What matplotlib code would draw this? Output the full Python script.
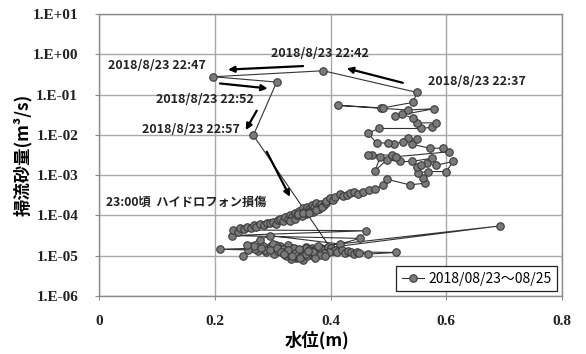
import matplotlib
matplotlib.use("Agg")
import matplotlib.pyplot as plt
import numpy as np

# water level (m) and log10 of bedload discharge (m3/s), in time order
# baseline before the rise
base_x = [0.350, 0.362, 0.345, 0.338, 0.330, 0.322, 0.316, 0.308, 0.300, 0.292,
          0.283, 0.275, 0.262, 0.249, 0.270, 0.288, 0.303, 0.313, 0.327, 0.340,
          0.355, 0.368, 0.380, 0.372, 0.358, 0.334, 0.320, 0.305, 0.286, 0.268,
          0.258, 0.280, 0.297, 0.311, 0.326, 0.255, 0.278, 0.295, 0.416, 0.451,
          0.229, 0.462]
base_y = [-4.87, -4.92, -4.95, -4.85, -4.90, -4.98, -4.88, -4.80, -4.85, -4.81,
          -4.77, -4.89, -4.80, -5.00, -4.83, -4.92, -4.96, -4.76, -4.79, -5.05,
          -4.94, -4.80, -4.92, -4.86, -4.78, -4.82, -4.93, -4.74, -4.86, -4.76,
          -4.85, -4.82, -4.77, -4.84, -4.74, -4.73, -4.61, -4.50, -4.71, -4.57,
          -4.50, -4.38]

# rising limb
rise_x = [0.232, 0.240, 0.244, 0.250, 0.255, 0.262, 0.267, 0.272, 0.278, 0.285,
          0.290, 0.295, 0.300, 0.305, 0.310, 0.313, 0.318, 0.322, 0.326, 0.330,
          0.334, 0.338, 0.330, 0.338, 0.342, 0.345, 0.350, 0.353, 0.356, 0.359,
          0.362, 0.365, 0.368, 0.372, 0.375, 0.380, 0.384, 0.388, 0.380, 0.370,
          0.358, 0.350, 0.344, 0.353, 0.362, 0.375, 0.385, 0.392, 0.393, 0.399,
          0.404, 0.408, 0.416, 0.422, 0.428, 0.434, 0.440, 0.448, 0.457, 0.467,
          0.477, 0.491, 0.497, 0.537, 0.563, 0.560]
rise_y = [-4.36, -4.40, -4.32, -4.33, -4.28, -4.30, -4.24, -4.28, -4.22, -4.25,
          -4.20, -4.19, -4.16, -4.21, -4.12, -4.08, -4.14, -4.05, -4.10, -3.99,
          -4.04, -3.95, -4.13, -4.08, -3.99, -3.90, -3.94, -3.82, -3.88, -3.78,
          -3.84, -3.90, -3.74, -3.80, -3.70, -3.76, -3.72, -3.75, -3.85, -3.92,
          -3.96, -4.02, -3.97, -3.93, -3.95, -3.87, -3.80, -3.70, -3.64, -3.57,
          -3.61, -3.53, -3.47, -3.52, -3.49, -3.44, -3.41, -3.47, -3.41, -3.38,
          -3.35, -3.24, -3.10, -3.24, -3.20, -3.08]

# peak period
peak_x = [0.552, 0.569, 0.600, 0.612, 0.583, 0.566, 0.549, 0.557, 0.575, 0.540,
          0.520, 0.497, 0.477, 0.486, 0.471, 0.465, 0.506, 0.514, 0.604, 0.595,
          0.572, 0.540, 0.549, 0.534, 0.525, 0.509, 0.500, 0.480, 0.465, 0.483,
          0.556, 0.575, 0.583, 0.549, 0.543, 0.523, 0.511, 0.579, 0.534, 0.488,
          0.4136, 0.490, 0.543, 0.549, 0.3876, 0.1975, 0.307, 0.2667]
peak_y = [-2.94, -2.91, -2.91, -2.66, -2.75, -2.70, -2.79, -2.75, -2.58, -2.66,
          -2.66, -2.62, -2.89, -2.54, -2.50, -2.50, -2.50, -2.54, -2.42, -2.33,
          -2.33, -2.23, -2.11, -2.08, -2.17, -2.23, -2.19, -2.21, -1.96, -1.84,
          -1.84, -1.81, -1.70, -1.70, -1.59, -1.48, -1.53, -1.35, -1.38, -1.34,
          -1.266, -1.33, -1.19, -0.943, -0.406, -0.555, -0.687, -2.01]

# after the hydrophone failure
after_x = [0.400, 0.392, 0.383, 0.374, 0.366, 0.358, 0.350, 0.342, 0.335, 0.332,
           0.324, 0.318, 0.310, 0.300, 0.296, 0.209, 0.307, 0.321, 0.337, 0.347,
           0.352, 0.360, 0.371, 0.377, 0.386, 0.395, 0.401, 0.404, 0.408, 0.412,
           0.420, 0.425, 0.430, 0.435, 0.440, 0.445, 0.450, 0.465, 0.514, 0.398,
           0.389, 0.378, 0.693, 0.363, 0.354, 0.344, 0.328, 0.315, 0.326, 0.339,
           0.348, 0.357, 0.369, 0.381, 0.390, 0.373, 0.361, 0.345, 0.333, 0.319]
after_y = [-4.81, -4.86, -4.80, -4.96, -4.98, -4.82, -4.93, -4.90, -4.96, -5.07,
           -5.02, -4.84, -4.89, -4.72, -4.87, -4.84, -4.80, -4.92, -4.82, -5.00,
           -5.10, -5.02, -4.89, -4.84, -4.87, -4.78, -4.82, -4.89, -4.85, -4.92,
           -4.87, -4.94, -4.89, -4.92, -4.96, -4.90, -4.94, -4.96, -4.92, -4.90,
           -4.94, -4.77, -4.26, -4.86, -4.95, -5.03, -4.97, -4.91, -4.86, -4.93,
           -5.06, -4.97, -4.92, -4.99, -5.01, -5.05, -4.88, -4.84, -5.00, -4.95]

series_label = "2018/08/23～08/25"

# time labels: (text, left x, y) and arrows (start, end)
time_labels = [
    ("2018/8/23 22:37", 0.569, 0.209),
    ("2018/8/23 22:42", 0.298, 1.06),
    ("2018/8/23 22:47", 0.016, 0.533),
    ("2018/8/23 22:52", 0.098, 0.0778),
    ("2018/8/23 22:57", 0.074, 0.0138),
]
arrows = [
    ((0.525, 0.197), (0.428, 0.45)),
    ((0.3525, 0.513), (0.223, 0.42)),
    ((0.209, 0.19), (0.2915, 0.143)),
    ((0.2725, 0.040), (0.2535, 0.0132)),
    ((0.2898, 0.00383), (0.330, 2.9e-4)),
]
note_text = "23:00頃  ハイドロフォン損傷"

jp = ["Noto Sans CJK JP", "DejaVu Sans"]

xs = np.array(base_x + rise_x + peak_x + after_x)
ys = 10.0 ** np.array(base_y + rise_y + peak_y + after_y)

fig = plt.figure(figsize=(5.86, 3.54), dpi=100)
ax = fig.add_axes([0.169, 0.164, 0.790, 0.796])

ax.plot(xs, ys, color="#333333", lw=0.8, marker="o", markersize=5.4,
        markerfacecolor="#7a7a7a", markeredgecolor="#3a3a3a", markeredgewidth=0.8,
        label=series_label, zorder=3)

ax.set_yscale("log")
ax.set_xlim(0, 0.8)
ax.set_ylim(1e-6, 1e1)
ax.set_xticks([0, 0.2, 0.4, 0.6, 0.8])
ax.set_xticklabels(["0", "0.2", "0.4", "0.6", "0.8"])
yt = [1e-6, 1e-5, 1e-4, 1e-3, 1e-2, 1e-1, 1e0, 1e1]
ax.set_yticks(yt)
ax.set_yticklabels(["1.E-06", "1.E-05", "1.E-04", "1.E-03", "1.E-02", "1.E-01", "1.E+00", "1.E+01"])
ax.minorticks_off()
ax.grid(True, color="#a8a8a8", lw=1.0)
ax.set_axisbelow(True)
for sp in ax.spines.values():
    sp.set_color("#8c8c8c")
    sp.set_linewidth(1.0)
ax.tick_params(axis="both", length=3, color="#8c8c8c")
ax.tick_params(axis="y", pad=12)
ax.tick_params(axis="x", pad=11)
for lab in ax.get_xticklabels() + ax.get_yticklabels():
    lab.set_fontfamily("Liberation Serif")
    lab.set_fontweight("bold")
    lab.set_fontsize(11)
    lab.set_color("#222222")

ax.set_xlabel("水位(m)", family=jp, fontweight="bold", fontsize=12.5)
ax.set_ylabel("掃流砂量(m³/s)", family=jp, fontweight="bold", fontsize=12.5)
ax.xaxis.set_label_coords(0.47, -0.125)
ax.yaxis.set_label_coords(-0.145, 0.5)

for text, tx, ty in time_labels:
    ax.text(tx, ty, text, family=jp, fontweight="bold", fontsize=9.0,
            ha="left", va="center", color="#222222", zorder=4)
ax.text(0.012, 2.13e-4, note_text, family=jp, fontweight="bold", fontsize=8.8,
        ha="left", va="center", color="#222222", zorder=4)

for start, end in arrows:
    ax.annotate("", xy=end, xytext=start,
                arrowprops=dict(arrowstyle="-|>", color="black", lw=1.6,
                                mutation_scale=9, shrinkA=0, shrinkB=0),
                zorder=4)

leg = ax.legend(loc="lower right", prop={"family": jp, "size": 10},
                fancybox=False, framealpha=1, edgecolor="#222222",
                borderaxespad=0.35, handlelength=1.6, handletextpad=0.3)
leg.get_frame().set_linewidth(0.9)

fig.savefig("out.png", dpi=100)
